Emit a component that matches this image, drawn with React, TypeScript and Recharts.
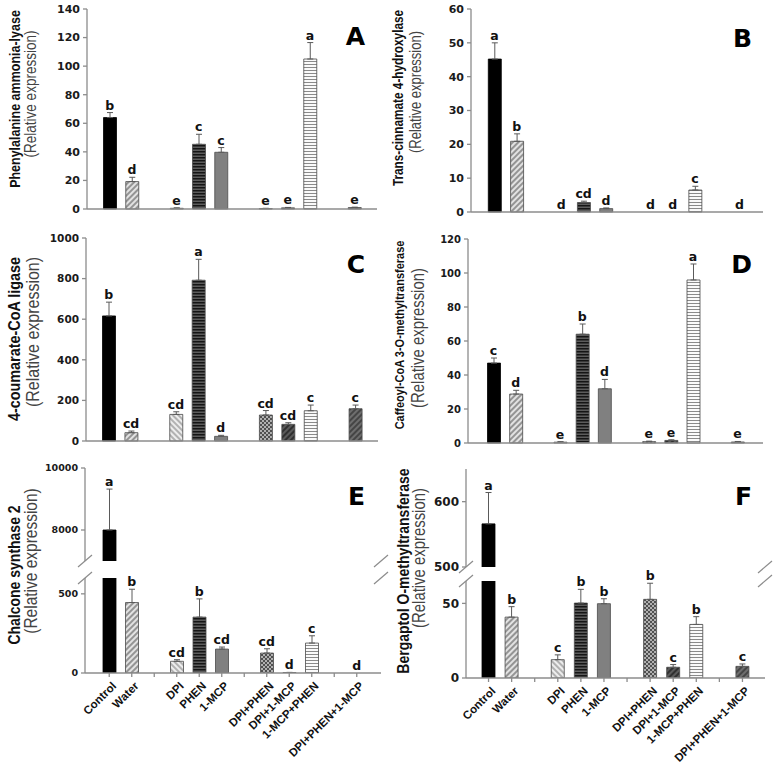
import React from 'react';
import { ComposedChart, Bar, XAxis, YAxis, ErrorBar, Line, LabelList, Cell } from 'recharts';

// treatments, with empty slots for the gaps between groups
const categories = ['Control', 'Water', '', 'DPI', 'PHEN', '1-MCP', '', 'DPI+PHEN', 'DPI+1-MCP', '1-MCP+PHEN', '', 'DPI+PHEN+1-MCP'];

// A - Phenylalanine ammonia-lyase
const palValues = [64, 19.2, null, 0.5, 45.3, 39.7, null, 0.3, 0.8, 105, null, 1];
const palErrors = [3.5, 3, null, 0.3, 7, 3.3, null, 0.2, 0.3, 11.5, null, 0.3];
const palLetters = ['b', 'd', null, 'e', 'c', 'c', null, 'e', 'e', 'a', null, 'e'];

// B - Trans-cinnamate 4-hydroxylase
const c4hValues = [45.2, 20.9, null, 0, 2.8, 1.0, null, 0, 0, 6.5, null, 0];
const c4hErrors = [4.8, 2.2, null, 0, 0.4, 0.2, null, 0, 0, 1.1, null, 0];
const c4hLetters = ['a', 'b', null, 'd', 'cd', 'd', null, 'd', 'd', 'c', null, 'd'];

// C - 4-coumarate-CoA ligase
const fourClValues = [616, 41, null, 131, 792, 23, null, 128, 82, 149, null, 159];
const fourClErrors = [68, 8, null, 13, 103, 5, null, 22, 8, 28, null, 18];
const fourClLetters = ['b', 'cd', null, 'cd', 'a', 'd', null, 'cd', 'cd', 'c', null, 'c'];

// D - Caffeoyl-CoA 3-O-methyltransferase
const ccoaValues = [47, 28.8, null, 0.5, 64, 31.9, null, 0.8, 1.5, 95.9, null, 0.6];
const ccoaErrors = [3, 2.2, null, 0.3, 6, 5.5, null, 0.3, 0.4, 9.4, null, 0.3];
const ccoaLetters = ['c', 'd', null, 'e', 'b', 'd', null, 'e', 'e', 'a', null, 'e'];

// E - Chalcone synthase 2 (broken axis)
const chsValues = [8000, 445, null, 74, 353, 151, null, 126, 3, 189, null, 0];
const chsErrors = [1320, 84, null, 10, 115, 13, null, 27, 1, 46, null, 0];
const chsLetters = ['a', 'b', null, 'cd', 'b', 'cd', null, 'cd', 'd', 'c', null, 'd'];

// F - Bergaptol O-methyltransferase (broken axis)
const bmtValues = [566, 40.8, null, 12.3, 50.2, 49.8, null, 52.7, 7.2, 35.9, null, 7.8];
const bmtErrors = [48, 7, null, 3.2, 9.2, 3.3, null, 10.8, 1.8, 5.2, null, 1.6];
const bmtLetters = ['a', 'b', null, 'c', 'b', 'b', null, 'b', 'c', 'b', null, 'c'];

const barFills = ['#000', 'url(#pt-water)', 'none', 'url(#pt-dpi)', 'url(#pt-phen)', '#808080', 'none', 'url(#pt-dpiphen)', 'url(#pt-dpimcp)', 'url(#pt-mcpphen)', 'none', 'url(#pt-all)'];

const AXIS = '#8c8c8c';
const NUM_FONT = 'DejaVu Sans';
const TITLE_FONT = '"Liberation Sans", Arial, sans-serif';

type Row = { name: string; value: number | null; err: number[] | null; top: number | null; sig: string | null };

// part: 'all' | 'lower' (values above cut are clipped) | 'upper' (only values above cut)
function makeRows(values: (number | null)[], errors: (number | null)[], letters: (string | null)[], part = 'all', cut = Infinity): Row[] {
  return categories.map((name, i) => {
    const v = values[i];
    const e = errors[i] ?? 0;
    if (v == null) return { name, value: null, err: null, top: null, sig: null };
    if (part === 'upper' && v <= cut) return { name, value: null, err: null, top: null, sig: null };
    if (part === 'lower' && v > cut) return { name, value: v, err: null, top: null, sig: null };
    return { name, value: v, err: [0, e], top: v + e, sig: letters[i] };
  });
}

const SlantTick = (props: any) => {
  const { x, y, payload } = props;
  if (!payload || !payload.value) return null;
  const tx = x + 2;
  const ty = y + 2;
  return (
    <text x={tx} y={ty} transform={`rotate(-45 ${tx} ${ty})`} textAnchor="end" dominantBaseline="hanging"
      fontFamily={TITLE_FONT} fontWeight={700} fontSize={11.5} fill="#111">
      {payload.value}
    </text>
  );
};

type PanelProps = {
  rows: Row[];
  left: number; top: number; width: number; height: number;
  domain: [number, number];
  ticks: number[];
  pad: number;
  tickFont: number;
  frameTop?: boolean;
  bottom?: 'plain' | 'labels' | 'none';
  clip?: boolean;
};

const Y_W = 44;
const M_TOP = 20;
const M_RIGHT = 12;

function Panel({ rows, left, top, width, height, domain, ticks, pad, tickFont, frameTop = true, bottom = 'plain', clip = false }: PanelProps) {
  const bottomH = bottom === 'labels' ? 100 : bottom === 'plain' ? 12 : 0;
  const mBottom = bottom === 'none' ? 10 : 0;
  const showBottom = bottom !== 'none';
  return (
    <div style={{ position: 'absolute', left: left - Y_W, top: top - M_TOP }}>
      <ComposedChart width={Y_W + width + M_RIGHT} height={M_TOP + height + bottomH + mBottom} data={rows}
        margin={{ top: M_TOP, right: M_RIGHT, bottom: mBottom, left: 0 }} barSize={13}>
        <XAxis dataKey="name" type="category" interval={0} padding={{ left: pad, right: pad }} height={bottomH}
          stroke={AXIS} strokeWidth={1.3} axisLine={showBottom} tickLine={showBottom} tickSize={4}
          tick={bottom === 'labels' ? <SlantTick /> : false} />
        {frameTop && (
          <XAxis xAxisId="top" orientation="top" dataKey="name" height={0} tick={false} tickLine={false}
            stroke={AXIS} strokeWidth={1.3} />
        )}
        <YAxis type="number" domain={domain} ticks={ticks} interval={0} allowDataOverflow={clip} width={Y_W}
          stroke={AXIS} strokeWidth={1.3} tickSize={4} tickMargin={3}
          tick={{ fill: '#1a1a1a', fontSize: tickFont, fontWeight: 700, fontFamily: NUM_FONT }} />
        <YAxis yAxisId="right" orientation="right" type="number" domain={[0, 1]} width={0} tick={false} tickLine={false}
          stroke={AXIS} strokeWidth={1.3} />
        <Bar dataKey="value" isAnimationActive={false}>
          {rows.map((r, i) => (
            <Cell key={i} fill={barFills[i]} stroke={i === 0 ? '#000' : '#4a4a4a'} strokeWidth={0.8} />
          ))}
          <ErrorBar dataKey="err" width={3} stroke="#5a5a5a" strokeWidth={1} direction="y" />
        </Bar>
        <Line dataKey="top" stroke="none" dot={false} activeDot={false} isAnimationActive={false} legendType="none">
          <LabelList dataKey="sig" position="top" offset={3} fill="#111" fontSize={12.5} fontWeight={700} fontFamily={NUM_FONT} />
        </Line>
      </ComposedChart>
    </div>
  );
}

const titles = [
  { x: 15, y: 99, size: 12.5, text: 'Phenylalanine ammonia-lyase', bold: true },
  { x: 31, y: 94, size: 13.5, text: '(Relative expression)', bold: false },
  { x: 398, y: 98, size: 11.8, text: 'Trans-cinnamate 4-hydroxylase', bold: true },
  { x: 416, y: 92, size: 13, text: '(Relative expression)', bold: false },
  { x: 14, y: 339, size: 14.4, text: '4-coumarate-CoA ligase', bold: true },
  { x: 32, y: 332, size: 16, text: '(Relative expression)', bold: false },
  { x: 400, y: 335, size: 11, text: 'Caffeoyl-CoA 3-O-methyltransferase', bold: true },
  { x: 417, y: 338, size: 14.9, text: '(Relative expression)', bold: false },
  { x: 14, y: 575, size: 14, text: 'Chalcone synthase 2', bold: true },
  { x: 31, y: 561, size: 15.5, text: '(Relative expression)', bold: false },
  { x: 403, y: 571, size: 14, text: 'Bergaptol O-methyltransferase', bold: true },
  { x: 418, y: 558, size: 14.9, text: '(Relative expression)', bold: false },
];

const panelLetters = [
  { x: 365, y: 45, text: 'A' },
  { x: 752, y: 47, text: 'B' },
  { x: 365, y: 273, text: 'C' },
  { x: 752, y: 273, text: 'D' },
  { x: 365, y: 505, text: 'E' },
  { x: 752, y: 505, text: 'F' },
];

// broken-axis geometry
const E = { left: 85, width: 296, upTop: 468, upH: 93, lowTop: 578, lowH: 95 };
const F = { left: 466, width: 299, upTop: 469, upH: 98, lowTop: 581, lowH: 97 };

function Breaks({ g }: { g: typeof E }) {
  const ys = [g.upTop + g.upH, g.lowTop];
  const xs = [g.left, g.left + g.width];
  return (
    <g stroke={AXIS} strokeWidth={1.2}>
      {xs.map((x) => ys.map((y) => <line key={`${x}-${y}`} x1={x - 7} y1={y + 6} x2={x + 7} y2={y - 6} />))}
    </g>
  );
}

export default function App() {
  return (
    <div style={{ position: 'absolute', left: 0, top: 0, width: 777, height: 765, background: '#fff', overflow: 'hidden' }}>
      <svg width={0} height={0} style={{ position: 'absolute' }}>
        <defs>
          <pattern id="pt-water" width="4" height="4" patternUnits="userSpaceOnUse" patternTransform="rotate(45)">
            <rect width="4" height="4" fill="#e2e2e2" />
            <line x1="1" y1="0" x2="1" y2="4" stroke="#6a6a6a" strokeWidth="1.3" />
          </pattern>
          <pattern id="pt-dpi" width="4" height="4" patternUnits="userSpaceOnUse" patternTransform="rotate(-45)">
            <rect width="4" height="4" fill="#ededed" />
            <line x1="1" y1="0" x2="1" y2="4" stroke="#8a8a8a" strokeWidth="1.2" />
          </pattern>
          <pattern id="pt-phen" width="4" height="3" patternUnits="userSpaceOnUse">
            <rect width="4" height="3" fill="#5c5c5c" />
            <line x1="0" y1="0.75" x2="4" y2="0.75" stroke="#151515" strokeWidth="1.5" />
          </pattern>
          <pattern id="pt-dpiphen" width="4" height="4" patternUnits="userSpaceOnUse">
            <rect width="4" height="4" fill="#b0b0b0" />
            <rect x="0" y="0" width="2" height="2" fill="#505050" />
            <rect x="2" y="2" width="2" height="2" fill="#505050" />
          </pattern>
          <pattern id="pt-dpimcp" width="4" height="4" patternUnits="userSpaceOnUse" patternTransform="rotate(45)">
            <rect width="4" height="4" fill="#5a5a5a" />
            <line x1="1" y1="0" x2="1" y2="4" stroke="#222" strokeWidth="1.5" />
          </pattern>
          <pattern id="pt-mcpphen" width="4" height="3" patternUnits="userSpaceOnUse">
            <rect width="4" height="3" fill="#fafafa" />
            <line x1="0" y1="0.5" x2="4" y2="0.5" stroke="#8a8a8a" strokeWidth="1" />
          </pattern>
          <pattern id="pt-all" width="4" height="4" patternUnits="userSpaceOnUse" patternTransform="rotate(45)">
            <rect width="4" height="4" fill="#6e6e6e" />
            <line x1="1" y1="0" x2="1" y2="4" stroke="#333" strokeWidth="1.4" />
          </pattern>
        </defs>
      </svg>

      <Panel rows={makeRows(palValues, palErrors, palLetters)} left={87} top={9} width={290} height={200}
        domain={[0, 140]} ticks={[0, 20, 40, 60, 80, 100, 120, 140]} pad={11.5} tickFont={11} />
      <Panel rows={makeRows(c4hValues, c4hErrors, c4hLetters)} left={471} top={9} width={292} height={203}
        domain={[0, 60]} ticks={[0, 10, 20, 30, 40, 50, 60]} pad={12.3} tickFont={11} />
      <Panel rows={makeRows(fourClValues, fourClErrors, fourClLetters)} left={86} top={238} width={292} height={203}
        domain={[0, 1000]} ticks={[0, 200, 400, 600, 800, 1000]} pad={11.5} tickFont={10.5} />
      <Panel rows={makeRows(ccoaValues, ccoaErrors, ccoaLetters)} left={468} top={239} width={295} height={204}
        domain={[0, 120]} ticks={[0, 20, 40, 60, 80, 100, 120]} pad={14.5} tickFont={10} />

      <Panel rows={makeRows(chsValues, chsErrors, chsLetters, 'upper', 600)} left={E.left} top={E.upTop} width={E.width} height={E.upH}
        domain={[7000, 10000]} ticks={[8000, 10000]} pad={13} tickFont={9.5} bottom="none" clip />
      <Panel rows={makeRows(chsValues, chsErrors, chsLetters, 'lower', 600)} left={E.left} top={E.lowTop} width={E.width} height={E.lowH}
        domain={[0, 600]} ticks={[0, 500]} pad={13} tickFont={9.5} frameTop={false} bottom="labels" clip />

      <Panel rows={makeRows(bmtValues, bmtErrors, bmtLetters, 'upper', 65)} left={F.left} top={F.upTop} width={F.width} height={F.upH}
        domain={[500, 650]} ticks={[500, 600]} pad={11} tickFont={12} bottom="none" clip />
      <Panel rows={makeRows(bmtValues, bmtErrors, bmtLetters, 'lower', 65)} left={F.left} top={F.lowTop} width={F.width} height={F.lowH}
        domain={[0, 65]} ticks={[0, 50]} pad={11} tickFont={12} frameTop={false} bottom="labels" clip />

      <svg width={777} height={765} style={{ position: 'absolute', left: 0, top: 0, pointerEvents: 'none' }}>
        {titles.map((t, i) => (
          <text key={i} transform={`translate(${t.x},${t.y}) rotate(-90) scale(1,1.2)`} textAnchor="middle" dominantBaseline="central"
            fontFamily={TITLE_FONT} fontWeight={t.bold ? 700 : 400} fontSize={t.size} fill={t.bold ? '#111' : '#444'}>
            {t.text}
          </text>
        ))}
        {panelLetters.map((p) => (
          <text key={p.text} x={p.x} y={p.y} textAnchor="end" fontFamily={NUM_FONT} fontWeight={700} fontSize={25} fill="#000">
            {p.text}
          </text>
        ))}
        <Breaks g={E} />
        <Breaks g={F} />
      </svg>
    </div>
  );
}
